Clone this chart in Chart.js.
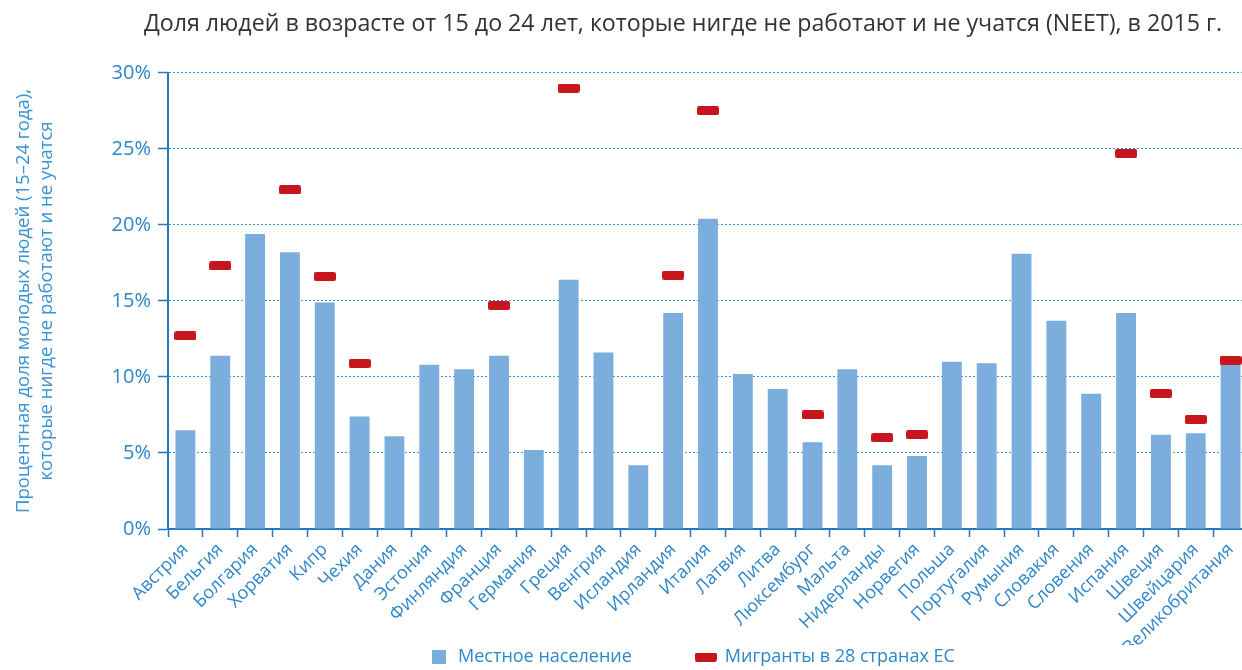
<!DOCTYPE html>
<html lang="ru">
<head>
    <meta charset="UTF-8">
    <title>NEET 2015</title>
    <script src="https://cdn.jsdelivr.net/npm/chart.js"></script>
    <style>
        html, body { margin: 0; padding: 0; background: #fff; overflow: hidden; }
        #wrap { width: 1260px; height: 737px; }
    </style>
</head>
<body>
<div id="wrap"><canvas id="neetChart" width="1260" height="737"></canvas></div>
<script>
// categories
const countries = ['Австрия', 'Бельгия', 'Болгария', 'Хорватия', 'Кипр', 'Чехия', 'Дания', 'Эстония',
    'Финляндия', 'Франция', 'Германия', 'Греция', 'Венгрия', 'Исландия', 'Ирландия', 'Италия',
    'Латвия', 'Литва', 'Люксембург', 'Мальта', 'Нидерланды', 'Норвегия', 'Польша', 'Португалия',
    'Румыния', 'Словакия', 'Словения', 'Испания', 'Швеция', 'Швейцария', 'Великобритания'];

// местное население, %
const localPop = [6.5, 11.4, 19.4, 18.2, 14.9, 7.4, 6.1, 10.8,
    10.5, 11.4, 5.2, 16.4, 11.6, 4.2, 14.2, 20.4,
    10.2, 9.2, 5.7, 10.5, 4.2, 4.8, 11.0, 10.9,
    18.1, 13.7, 8.9, 14.2, 6.2, 6.3, 10.9];

// мигранты, % (null = нет данных)
const migrants = [12.7, 17.3, null, 22.3, 16.6, 10.9, null, null,
    null, 14.7, null, 29.0, null, null, 16.7, 27.5,
    null, null, 7.5, null, 6.0, 6.2, null, null,
    null, null, null, 24.7, 8.9, 7.2, 11.1];

const yTicks = [0, 5, 10, 15, 20, 25, 30];

const seriesNames = ['Местное население', 'Мигранты в 28 странах ЕС'];
const titleText = 'Доля людей в возрасте от 15 до 24 лет, которые нигде не работают и не учатся (NEET), в 2015 г.';
const yTitle = ['Процентная доля молодых людей (15–24 года),', 'которые нигде не работают и не учатся'];

const blue = '#7baddd';
const red = '#c8151d';
const axisBlue = '#2478bd';
const gridBlue = '#4693d3';
const textBlue = '#2f86c8';

function swatch(w, h, color, r) {
    const c = document.createElement('canvas');
    c.width = w; c.height = h;
    const g = c.getContext('2d');
    g.fillStyle = color;
    g.beginPath();
    if (g.roundRect) g.roundRect(0, 0, w, h, r); else g.rect(0, 0, w, h);
    g.fill();
    return c;
}
const blueBox = swatch(14, 14, blue, 0);
const redDash = swatch(22, 9, red, 2);

Chart.defaults.font.family = '"Open Sans", sans-serif';

// move title and legend to where they sit in the original
const placeBlocks = {
    id: 'placeBlocks',
    afterLayout(chart) {
        const t = chart.titleBlock;
        t.left = 83; t.right = 1283; t.width = t.right - t.left;
        const lg = chart.legend;
        lg.left = 365; lg.width = lg.right - lg.left;
        lg.top = 584; lg.bottom = lg.top + lg.height;
    }
};

const ctx = document.getElementById('neetChart').getContext('2d');
new Chart(ctx, {
    type: 'bar',
    data: {
        labels: countries,
        datasets: [{
            label: seriesNames[0],
            data: localPop,
            backgroundColor: blue,
            borderWidth: 0,
            barPercentage: 0.57,
            categoryPercentage: 1,
            order: 1
        }, {
            type: 'line',
            label: seriesNames[1],
            data: migrants,
            showLine: false,
            pointStyle: redDash,
            pointRadius: 11,
            pointHoverRadius: 11,
            backgroundColor: red,
            borderColor: red,
            order: 0
        }]
    },
    options: {
        responsive: false,
        animation: false,
        layout: { padding: 0 },
        plugins: {
            title: {
                display: true,
                text: titleText,
                color: '#333333',
                font: { size: 23.2, weight: 'normal', lineHeight: 1.2 },
                padding: { top: 10, bottom: 35 }
            },
            legend: {
                position: 'bottom',
                align: 'start',
                labels: {
                    usePointStyle: true,
                    pointStyleWidth: 20,
                    padding: 64,
                    color: textBlue,
                    font: { size: 18 },
                    generateLabels(chart) {
                        const items = Chart.defaults.plugins.legend.labels.generateLabels(chart);
                        items.sort((a, b) => a.datasetIndex - b.datasetIndex);
                        items.forEach(it => { it.pointStyle = it.datasetIndex === 0 ? blueBox : redDash; });
                        return items;
                    }
                }
            },
            tooltip: { enabled: false }
        },
        scales: {
            x: {
                grid: {
                    drawOnChartArea: false,
                    color: axisBlue,
                    tickLength: 8,
                    tickWidth: 1.5
                },
                border: { color: axisBlue, width: 2 },
                ticks: {
                    color: textBlue,
                    font: { size: 18 },
                    autoSkip: false,
                    minRotation: 45,
                    maxRotation: 45,
                    padding: 2
                },
                afterFit(scale) { scale.height = 116; }
            },
            y: {
                min: 0,
                max: 30,
                afterBuildTicks(scale) { scale.ticks = yTicks.map(v => ({ value: v })); },
                grid: {
                    color: gridBlue,
                    lineWidth: 1,
                    tickLength: 10,
                    tickWidth: 1.5,
                    tickColor: axisBlue,
                    tickBorderDash: []
                },
                border: { color: axisBlue, width: 2, dash: [2, 2] },
                ticks: {
                    color: textBlue,
                    font: { size: 20 },
                    padding: 7,
                    callback: v => v + '%'
                },
                title: {
                    display: true,
                    text: yTitle,
                    color: '#3b93d4',
                    font: { size: 18.5, lineHeight: 1.2 },
                    padding: { top: 13, bottom: 0 }
                },
                afterFit(scale) { scale.width = 168; }
            }
        }
    },
    plugins: [placeBlocks]
});
</script>
</body>
</html>
